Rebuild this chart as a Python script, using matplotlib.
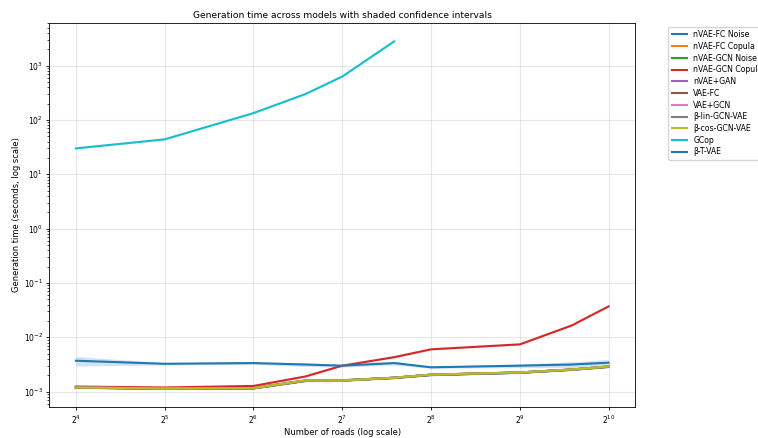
import numpy as np
import matplotlib
matplotlib.use('Agg')
import matplotlib.pyplot as plt

roads = [16, 32, 64, 96, 128, 192, 256, 512, 768, 1024]

modelos = ['nVAE-FC Noise', 'nVAE-FC Copula', 'nVAE-GCN Noise', 'nVAE-GCN Copula',
           'nVAE+GAN', 'VAE-FC', 'VAE+GCN', 'β-lin-GCN-VAE', 'β-cos-GCN-VAE',
           'GCop', 'β-T-VAE']

# tempos medios (s)
t_fc_noise = [1.18e-3, 1.13e-3, 1.15e-3, 1.58e-3, 1.6e-3, 1.78e-3, 2.02e-3, 2.22e-3, 2.52e-3, 2.85e-3]
t_fc_copula = [1.19e-3, 1.14e-3, 1.16e-3, 1.6e-3, 1.6e-3, 1.8e-3, 2.05e-3, 2.25e-3, 2.55e-3, 2.9e-3]
t_gcn_noise = [1.2e-3, 1.15e-3, 1.17e-3, 1.6e-3, 1.62e-3, 1.8e-3, 2.05e-3, 2.25e-3, 2.55e-3, 2.9e-3]
t_gcn_copula = [1.24e-3, 1.19e-3, 1.27e-3, 1.9e-3, 3.0e-3, 4.3e-3, 6.0e-3, 7.4e-3, 1.65e-2, 3.7e-2]
t_gan = [1.19e-3, 1.14e-3, 1.16e-3, 1.6e-3, 1.6e-3, 1.8e-3, 2.05e-3, 2.25e-3, 2.55e-3, 2.9e-3]
t_vae_fc = [1.18e-3, 1.14e-3, 1.15e-3, 1.58e-3, 1.6e-3, 1.8e-3, 2.04e-3, 2.24e-3, 2.54e-3, 2.88e-3]
t_vae_gcn = [1.19e-3, 1.15e-3, 1.16e-3, 1.6e-3, 1.61e-3, 1.8e-3, 2.05e-3, 2.25e-3, 2.55e-3, 2.9e-3]
t_lin = [1.18e-3, 1.14e-3, 1.15e-3, 1.57e-3, 1.6e-3, 1.79e-3, 2.03e-3, 2.23e-3, 2.53e-3, 2.86e-3]
t_cos = [1.19e-3, 1.14e-3, 1.16e-3, 1.6e-3, 1.6e-3, 1.8e-3, 2.05e-3, 2.25e-3, 2.55e-3, 2.9e-3]
t_gcop = [30, 44, 134, 300, 630, 2800, np.nan, np.nan, np.nan, np.nan]
t_beta_t = [3.7e-3, 3.25e-3, 3.35e-3, 3.15e-3, 3.0e-3, 3.35e-3, 2.8e-3, 3.0e-3, 3.15e-3, 3.4e-3]

# meia largura relativa do intervalo de confianca
ic_fc_noise = [0.03] * 10
ic_fc_copula = [0.03] * 10
ic_gcn_noise = [0.03] * 10
ic_gcn_copula = [0.04, 0.03, 0.04, 0.03, 0.03, 0.03, 0.03, 0.03, 0.03, 0.03]
ic_gan = [0.03] * 10
ic_vae_fc = [0.03] * 10
ic_vae_gcn = [0.03] * 10
ic_lin = [0.04] * 10
ic_cos = [0.03] * 10
ic_gcop = [0.03] * 10
ic_beta_t = [0.2, 0.05, 0.05, 0.08, 0.06, 0.08, 0.04, 0.08, 0.12, 0.15]

tempos = [t_fc_noise, t_fc_copula, t_gcn_noise, t_gcn_copula, t_gan, t_vae_fc,
          t_vae_gcn, t_lin, t_cos, t_gcop, t_beta_t]
ics = [ic_fc_noise, ic_fc_copula, ic_gcn_noise, ic_gcn_copula, ic_gan, ic_vae_fc,
       ic_vae_gcn, ic_lin, ic_cos, ic_gcop, ic_beta_t]

fig, ax = plt.subplots(figsize=(7.58, 4.38), dpi=100)

for nome, t, ic in zip(modelos, tempos, ics):
    t = np.array(t, dtype=float)
    ic = np.array(ic)
    linha, = ax.plot(roads, t, label=nome, linewidth=1.5)
    ax.fill_between(roads, t * (1 - ic), t * (1 + ic), color=linha.get_color(), alpha=0.2,
                    linewidth=0)

ax.set_xscale('log', base=2)
ax.set_yscale('log')
ax.set_xticks([16, 32, 64, 128, 256, 512, 1024])
ax.set_title('Generation time across models with shaded confidence intervals', fontsize=6.6, pad=4)
ax.set_xlabel('Number of roads (log scale)', fontsize=6, labelpad=2)
ax.set_ylabel('Generation time (seconds, log scale)', fontsize=6, labelpad=2)
ax.tick_params(labelsize=5.5, length=2.5, width=0.6, pad=2)
ax.tick_params(which='minor', length=1.5, width=0.5)
for s in ax.spines.values():
    s.set_linewidth(0.6)
ax.grid(True, alpha=0.3)
ax.legend(bbox_to_anchor=(1.05, 1), loc='upper left', fontsize=5.6, labelspacing=0.35,
          borderaxespad=0.5)

plt.subplots_adjust(left=0.065, right=0.838, top=0.947, bottom=0.071)
plt.savefig('out.png', dpi=100)
